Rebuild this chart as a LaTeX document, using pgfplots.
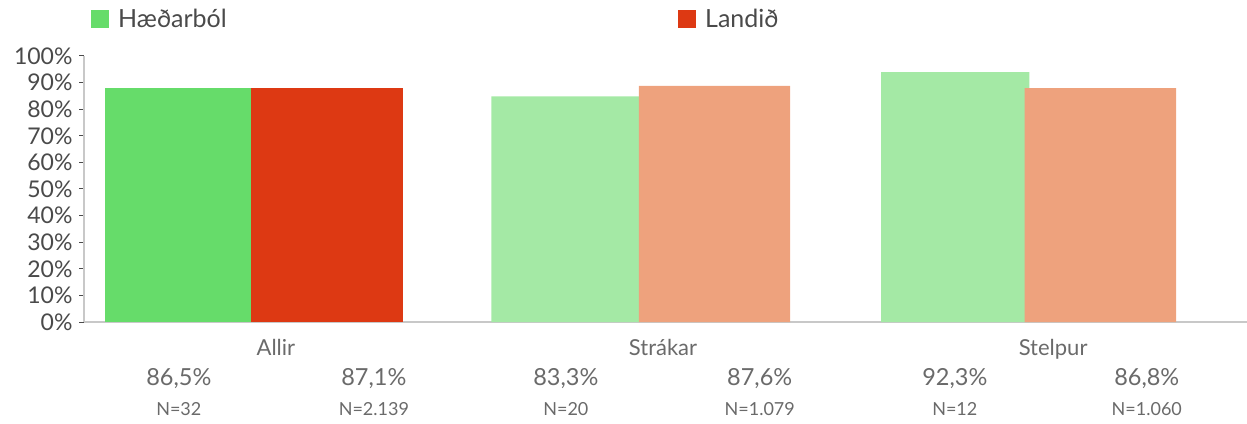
\documentclass[border=0pt]{standalone}
\usepackage{pgfplots}
\pgfplotsset{compat=1.18}
\usepackage{fontspec}
\setmainfont{Lato}
\definecolor{gA}{HTML}{66DC6A}
\definecolor{rA}{HTML}{DD3913}
\definecolor{gL}{HTML}{A4E9A5}
\definecolor{rL}{HTML}{EEA27D}
\definecolor{axgrey}{HTML}{C8C8C8}
\definecolor{txt}{HTML}{4A4A4A}
\definecolor{lbl}{HTML}{6A6A6A}

\begin{document}
\begin{tikzpicture}
\path[use as bounding box] (0pt,0pt) rectangle (1247pt,423pt);
\begin{axis}[
    at={(84pt,101pt)}, anchor=south west,
    scale only axis, width=1163pt, height=266pt,
    xmin=-0.439, xmax=2.566, ymin=0, ymax=100,
    axis x line*=bottom, axis y line*=left,
    axis line style={axgrey, line width=2.5pt, -},
    clip=false,
    ytick={0,10,...,100},
    yticklabel={\pgfmathprintnumber{\tick}\%},
    /pgf/number format/assume math mode=true,
    yticklabel style={font=\fontsize{23}{23}\selectfont, text=txt, xshift=-3pt},
    ytick style={draw=txt, line width=1pt},
    tick align=outside, major tick length=5pt,
    xtick={0.057,1.057,2.065},
    xticklabels={Allir,Strákar,Stelpur},
    xtick style={draw=none},
    xticklabel style={font=\fontsize{22}{22}\selectfont, text=lbl, anchor=base, yshift=-28pt},
    legend columns=2,
    legend image code/.code={\fill[#1,draw=none] (0pt,-9pt) rectangle (18pt,9pt);},
    legend style={draw=none, fill=none, inner sep=0pt,
        at={(axis description cs:0.006,1.177)}, anchor=north west,
        font=\fontsize{25}{25}\selectfont, text=txt,
        cells={anchor=west},
        nodes={inner sep=0pt}},
]
% bar heights as drawn in the picture
\addplot[ybar, bar width=0.377, bar shift=0pt, fill=gA, draw=none] coordinates {(-0.195,87.9)};
\addlegendentry{\makebox[569pt][l]{\hspace{9pt}Hæðarból}}
\addplot[ybar, bar width=0.393, bar shift=0pt, fill=rA, draw=none] coordinates {(0.19,87.9)};
\addlegendentry{\hspace{9pt}Landið}
\addplot[ybar, bar width=0.383, bar shift=0pt, fill=gL, draw=none, forget plot] coordinates {(0.805,84.8) (1.812,93.9)};
\addplot[ybar, bar width=0.391, bar shift=0pt, fill=rL, draw=none, forget plot] coordinates {(1.19,88.8) (2.187,87.9)};

\begin{scope}[every node/.style={anchor=base, text=lbl}]
\node[font=\fontsize{23.5}{23.5}\selectfont] at (axis cs:-0.194,-23.8) {86,5\%};
\node[font=\fontsize{23.5}{23.5}\selectfont] at (axis cs:0.310,-23.8) {87,1\%};
\node[font=\fontsize{23.5}{23.5}\selectfont] at (axis cs:0.806,-23.8) {83,3\%};
\node[font=\fontsize{23.5}{23.5}\selectfont] at (axis cs:1.307,-23.8) {87,6\%};
\node[font=\fontsize{23.5}{23.5}\selectfont] at (axis cs:1.811,-23.8) {92,3\%};
\node[font=\fontsize{23.5}{23.5}\selectfont] at (axis cs:2.307,-23.8) {86,8\%};
\node[font=\fontsize{18}{18}\selectfont] at (axis cs:-0.194,-35.1) {N=32};
\node[font=\fontsize{18}{18}\selectfont] at (axis cs:0.310,-35.1) {N=2.139};
\node[font=\fontsize{18}{18}\selectfont] at (axis cs:0.806,-35.1) {N=20};
\node[font=\fontsize{18}{18}\selectfont] at (axis cs:1.307,-35.1) {N=1.079};
\node[font=\fontsize{18}{18}\selectfont] at (axis cs:1.811,-35.1) {N=12};
\node[font=\fontsize{18}{18}\selectfont] at (axis cs:2.307,-35.1) {N=1.060};
\end{scope}
\end{axis}
\end{tikzpicture}
\end{document}
